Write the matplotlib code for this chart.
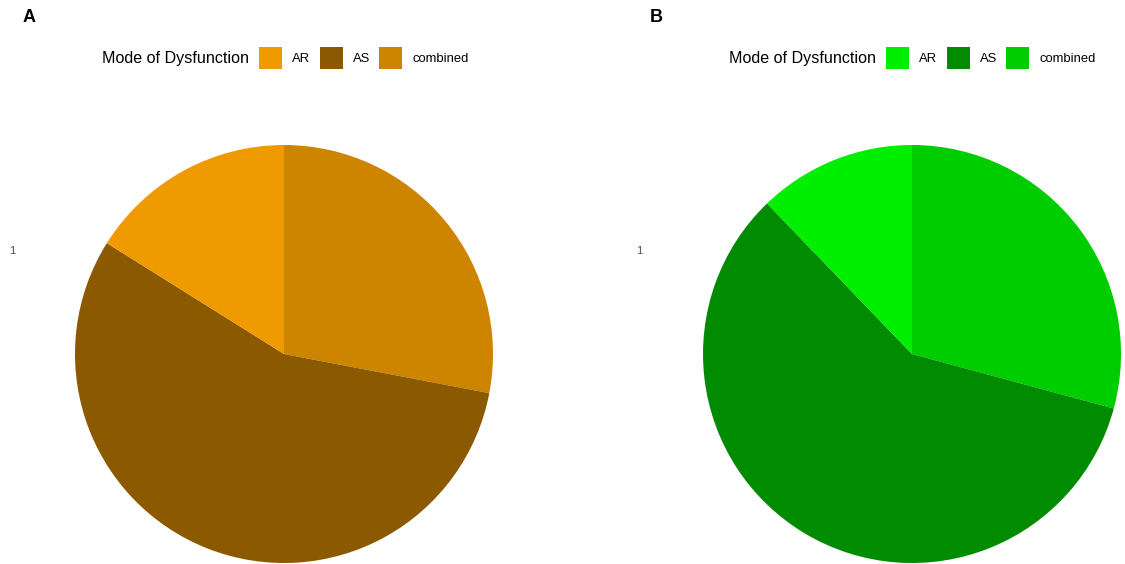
import matplotlib
matplotlib.use('Agg')
import matplotlib.pyplot as plt
from matplotlib.patches import Patch

plt.rcParams['font.family'] = ['Liberation Sans', 'DejaVu Sans']

# slice order as drawn clockwise from 12 o'clock (ggplot stacking)
modes = ['combined', 'AS', 'AR']
legend_order = ['AR', 'AS', 'combined']
share_a = [28.0, 55.9, 16.1]
share_b = [29.2, 58.6, 12.2]
colors_a = {'AR': '#EE9A00', 'AS': '#8B5A00', 'combined': '#CD8500'}
colors_b = {'AR': '#00EE00', 'AS': '#008B00', 'combined': '#00CD00'}

W, H = 1125, 564
fig = plt.figure(figsize=(W / 100, H / 100), dpi=100)

panels = [
    ('A', share_a, colors_a, 284, 0),
    ('B', share_b, colors_b, 912, 627),
]

R = 209
CY = 354
for letter, shares, cmap, cx, x0 in panels:
    ax = fig.add_axes([(cx - R) / W, (H - CY - R) / H, 2 * R / W, 2 * R / H])
    ax.pie(shares, colors=[cmap[m] for m in modes], startangle=90,
           counterclock=False, radius=1.0,
           wedgeprops=dict(linewidth=0, antialiased=True))
    ax.set_xlim(-1, 1)
    ax.set_ylim(-1, 1)
    ax.set_aspect('equal')
    ax.axis('off')

    # panel tag and axis label
    fig.text((x0 + 23) / W, 1 - 18 / H, letter, fontsize=13, fontweight='bold',
             ha='left', va='center')
    fig.text((x0 + 9) / W, 1 - 251 / H, '1', fontsize=8, color='#4D4D4D',
             ha='left', va='center')

    # legend
    fig.text((x0 + 102) / W, 1 - 58 / H, 'Mode of Dysfunction', fontsize=11.6,
             ha='left', va='center')
    handles = [Patch(facecolor=cmap[m], edgecolor='none', label=m) for m in legend_order]
    fig.legend(handles=handles, loc='center left',
               bbox_to_anchor=((x0 + 259) / W, 1 - 58 / H), ncol=3, frameon=False,
               fontsize=9.4, handlelength=1.78, handleheight=2.3, handletextpad=0.75,
               columnspacing=0.72, borderpad=0, borderaxespad=0)

fig.savefig('out.png', dpi=100, facecolor='white')
